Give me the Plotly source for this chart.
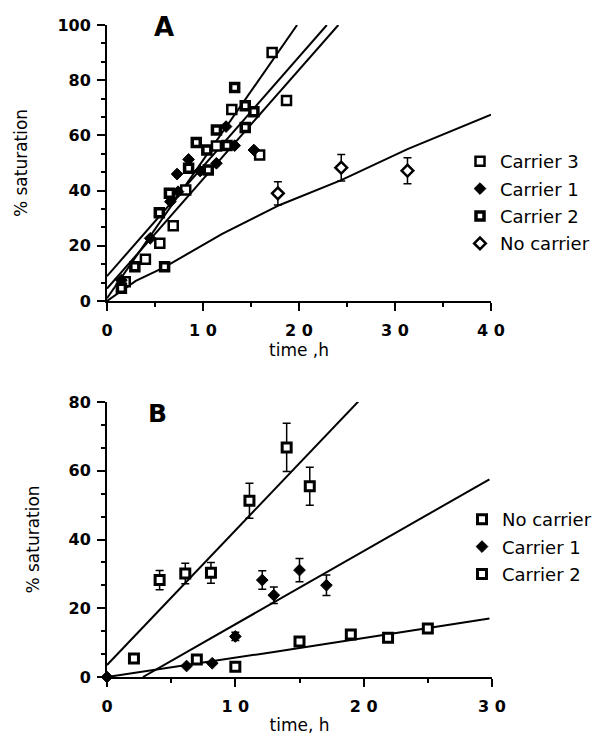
import plotly.graph_objects as go

# ---------------- Panel A data ----------------
a_c3_x = [1.9, 4.0, 5.5, 6.9, 8.2, 11.4, 13.0, 15.9, 17.2, 18.7]
a_c3_y = [7.0, 15.1, 20.9, 27.3, 40.2, 56.2, 69.4, 52.9, 90.0, 72.6]

a_c1_x = [1.5, 4.5, 6.6, 7.3, 7.4, 8.5, 9.7, 11.4, 12.4, 13.3, 15.3]
a_c1_y = [7.5, 22.7, 36.0, 46.0, 39.6, 51.3, 47.1, 49.9, 63.2, 56.3, 54.7]

a_c2_x = [1.5, 2.9, 5.45, 6.0, 6.5, 8.5, 9.3, 10.4, 10.55, 11.4, 12.5, 13.3, 14.4, 14.4, 15.3]
a_c2_y = [4.6, 12.4, 32.0, 12.4, 39.0, 48.1, 57.4, 54.7, 47.5, 62.0, 56.3, 77.4, 62.9, 70.7, 68.6]

a_nc_x = [17.8, 24.4, 31.3]
a_nc_y = [39.0, 48.3, 47.2]
a_nc_err = [4.2, 4.8, 4.7]

# fitted lines (end points)
a_line1_x = [0, 19.8]
a_line1_y = [1.0, 100]
a_line2_x = [0, 22.9]
a_line2_y = [9.0, 100]
a_line3_x = [0, 24.1]
a_line3_y = [4.5, 100]
a_curve_x = [0, 3, 6, 12, 18, 24.4, 31.3, 40]
a_curve_y = [0, 7.3, 12.3, 24.3, 34.8, 43.8, 55.0, 67.5]

# ---------------- Panel B data ----------------
b_nc_x = [7.0, 10.0, 15.0, 19.0, 21.9, 25.0]
b_nc_y = [5.1, 3.0, 10.3, 12.4, 11.4, 14.1]

b_c1_x = [0, 6.2, 8.2, 10.0, 12.1, 13.0, 15.0, 17.1]
b_c1_y = [0, 3.2, 4.0, 11.8, 28.2, 23.8, 31.1, 26.7]
b_c1_err = [None, None, None, 1.2, 2.7, 2.4, 3.4, 3.0]

b_c2_x = [2.1, 4.1, 6.1, 8.1, 11.1, 14.0, 15.8]
b_c2_y = [5.4, 28.2, 30.1, 30.3, 51.3, 66.8, 55.5]
b_c2_err = [None, 2.8, 3.0, 3.0, 5.1, 7.0, 5.5]

b_line_c2_x = [0, 19.7]
b_line_c2_y = [3.5, 80.6]
b_line_c1_x = [2.8, 29.8]
b_line_c1_y = [0, 57.5]
b_line_nc_x = [0, 13, 29.8]
b_line_nc_y = [0, 7.3, 17.0]

# page body has an 8px margin: figure is placed at (8, 8) in the window
OFF = 8
W, H = 614 - OFF, 735 - OFF
FONT = "DejaVu Sans"

def px_x(p):
    return (p - OFF) / W

def px_y(p):
    return 1 - (p - OFF) / H

fig = go.Figure()

def line(x, y, xa, ya):
    fig.add_trace(go.Scatter(x=x, y=y, mode="lines", xaxis=xa, yaxis=ya,
                             line=dict(color="black", width=2), showlegend=False,
                             hoverinfo="skip"))

def pts(x, y, name, symbol, fill, size, lw, xa, ya, legend, err=None):
    tr = dict(x=x, y=y, mode="markers", name=name, xaxis=xa, yaxis=ya,
              legend=legend, legendgroup=legend + name, cliponaxis=False,
              marker=dict(symbol=symbol, color=fill, size=size,
                          line=dict(color="black", width=lw)))
    if err is not None:
        tr["error_y"] = dict(type="data", array=err, visible=True,
                             color="black", thickness=1.5, width=4)
    fig.add_trace(go.Scatter(**tr))

# Panel A
line(a_line1_x, a_line1_y, "x", "y")
line(a_line2_x, a_line2_y, "x", "y")
line(a_line3_x, a_line3_y, "x", "y")
line(a_curve_x, a_curve_y, "x", "y")
pts(a_c3_x, a_c3_y, "Carrier 3", "square", "white", 9, 2.5, "x", "y", "legend")
pts(a_c1_x, a_c1_y, "Carrier 1", "diamond", "black", 9, 1, "x", "y", "legend")
pts(a_c2_x, a_c2_y, "Carrier 2", "square", "white", 8, 3.5, "x", "y", "legend")
pts(a_nc_x, a_nc_y, "No carrier", "diamond", "white", 9, 2.5, "x", "y", "legend", a_nc_err)

# Panel B
line(b_line_c2_x, b_line_c2_y, "x2", "y2")
line(b_line_c1_x, b_line_c1_y, "x2", "y2")
line(b_line_nc_x, b_line_nc_y, "x2", "y2")
pts(b_nc_x, b_nc_y, "No carrier", "square", "white", 9, 3, "x2", "y2", "legend2")
pts(b_c1_x, b_c1_y, "Carrier 1", "diamond", "black", 9, 1, "x2", "y2", "legend2", b_c1_err)
pts(b_c2_x, b_c2_y, "Carrier 2", "square", "white", 9, 3, "x2", "y2", "legend2", b_c2_err)

tickfont = dict(family=FONT, size=16, color="black", weight="bold")
titlefont = dict(family=FONT, size=17, color="black")

def xaxis(domain, rng, anchor, title, standoff):
    return dict(domain=domain, range=rng, anchor=anchor, showline=True, linewidth=2,
                linecolor="black", showgrid=False, zeroline=False, automargin=False,
                tickmode="array",
                tickvals=list(range(0, rng[1] + 1, 10)),
                ticktext=["0"] + [" ".join(str(v)) for v in range(10, rng[1] + 1, 10)],
                ticks="outside", ticklen=8, tickwidth=1.5, tickcolor="black",
                ticklabelstandoff=6,
                minor=dict(dtick=5, ticks="outside", ticklen=4, tickwidth=1.5, tickcolor="black"),
                tickfont=tickfont, title=dict(text=title, font=titlefont, standoff=standoff))

def yaxis(domain, rng, anchor):
    return dict(domain=domain, range=rng, anchor=anchor, showline=True, linewidth=2,
                linecolor="black", showgrid=False, zeroline=False, automargin=False,
                tickmode="linear", tick0=0, dtick=20,
                ticks="outside", ticklen=8, tickwidth=1.5, tickcolor="black",
                ticklabelstandoff=3,
                minor=dict(dtick=20 / 3, ticks="outside", ticklen=4, tickwidth=1.5, tickcolor="black"),
                tickfont=tickfont,
                title=dict(text="% saturation", font=titlefont, standoff=25))

legfont = dict(family=FONT, size=18, color="black")

fig.update_layout(
    width=W, height=H,
    margin=dict(l=0, r=0, t=0, b=0, autoexpand=False),
    paper_bgcolor="white", plot_bgcolor="white",
    xaxis=xaxis([px_x(107), px_x(491)], [0, 40], "y", "time ,h", 4),
    yaxis=yaxis([px_y(301), px_y(25)], [0, 100], "x"),
    xaxis2=xaxis([px_x(107), px_x(492)], [0, 30], "y2", "time, h", 6),
    yaxis2=yaxis([px_y(677), px_y(402)], [0, 80], "x2"),
    legend=dict(x=px_x(460), y=px_y(143), xanchor="left", yanchor="top",
                font=legfont, bgcolor="rgba(0,0,0,0)", traceorder="grouped",
                tracegroupgap=1, itemwidth=30),
    legend2=dict(x=px_x(462), y=px_y(501), xanchor="left", yanchor="top",
                 font=legfont, bgcolor="rgba(0,0,0,0)", traceorder="grouped",
                 tracegroupgap=1, itemwidth=30),
    annotations=[
        dict(text="A", x=px_x(164), y=px_y(27), xref="paper", yref="paper",
             xanchor="center", yanchor="middle", showarrow=False,
             font=dict(family=FONT, size=26, color="black", weight="bold")),
        dict(text="B", x=px_x(157), y=px_y(414), xref="paper", yref="paper",
             xanchor="center", yanchor="middle", showarrow=False,
             font=dict(family=FONT, size=25, color="black", weight="bold")),
    ],
)

fig.write_html("out.html")
